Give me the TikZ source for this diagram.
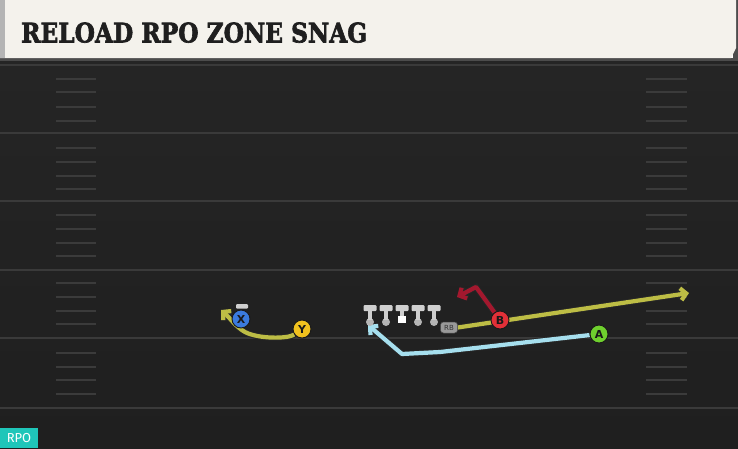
\documentclass[tikz,border=0pt]{standalone}
\usepackage{fontspec}
\setmainfont{DejaVu Sans}
\newfontfamily\titlefont[BoldFeatures={FakeBold=2.5}]{DejaVu Serif}
\newfontfamily\rpofont{Fira Sans}
\usetikzlibrary{arrows.meta}
\definecolor{fieldtop}{HTML}{252525}
\definecolor{fieldbot}{HTML}{1F1F1F}
\definecolor{cream}{HTML}{F4F2EC}
\definecolor{stripe}{HTML}{B4B4B4}
\definecolor{yardc}{HTML}{3A3A3A}
\definecolor{hashc}{HTML}{3B3B3B}
\definecolor{ylw}{HTML}{BDBD45}
\definecolor{cyanr}{HTML}{A6DFEE}
\definecolor{redr}{HTML}{A3182E}
\definecolor{xblue}{HTML}{3B7BDD}
\definecolor{yyel}{HTML}{F1C21E}
\definecolor{bred}{HTML}{E23038}
\definecolor{agrn}{HTML}{6FD02E}
\definecolor{olc}{HTML}{CFCFCF}
\definecolor{olb}{HTML}{B5B5B5}
\definecolor{rpoc}{HTML}{1FC6B9}
\pgfdeclarelayer{bg}
\pgfsetlayers{bg,main}
\tikzset{
  player/.style={circle, draw=black!90, line width=0.9pt, minimum size=18pt, inner sep=0pt,
    font=\fontsize{11}{11}\selectfont\bfseries, text=black!90},
  route/.style={line width=4.2pt, draw=#1, line join=round,
    preaction={draw=black!85, line width=6.2pt}},
  tip/.style={-{Straight Barb[length=5.5pt,width=12pt]}},
  yardline/.style={draw=yardc, line width=2pt},
  hashmark/.style={draw=hashc, line width=1.6pt},
  olbar/.style={fill=olc, rounded corners=1pt},
}
\begin{document}
\begin{tikzpicture}[x=1pt,y=-1pt]
\useasboundingbox (0,0) rectangle (738,448);
\begin{pgfonlayer}{bg}
% field
\shade[top color=fieldtop, bottom color=fieldbot] (0,58) rectangle (738,448);
\fill[black!70] (0,58) rectangle (738,61);
\fill[black!70] (733,0) rectangle (738,61);
% yard lines
\foreach \yy in {65,133,201,270,338,408}
  \draw[yardline] (0,\yy) -- (738,\yy);
% hash marks
\foreach \yy in {79,92,107,121,148,162,176,189,215,229,243,256,283,297,311,324,353,367,380,394}{
  \draw[hashmark] (56,\yy) -- (96,\yy);
  \draw[hashmark] (646,\yy) -- (687,\yy);
}
% header
\fill[cream] (0,0) -- (736,0) -- (736,48) -- (731,58) -- (0,58) -- cycle;
\fill[stripe] (0,0) rectangle (5,58);
\end{pgfonlayer}

\node[anchor=south west, inner sep=0pt, text=black!88] (title) at (21,43)
  {\resizebox{346pt}{20pt}{\titlefont\bfseries RELOAD RPO ZONE SNAG}};

% offensive line
\foreach \xx/\nm in {370/L1,386/L2,418/L4,434/L5}{
  \fill[olb] (\xx,322) circle (4);
  \fill[olc] (\xx-2.2,309) rectangle (\xx+2.2,320);
  \fill[olbar] (\xx-6.5,305) rectangle (\xx+6.5,311);
  \coordinate (\nm) at (\xx,322);
}
\fill[olc] (399.8,309) rectangle (404.2,316);
\fill[olbar] (395.5,305) rectangle (408.5,311);
\fill[white] (398,315.5) rectangle (405.5,322.5);
\node[inner sep=0pt, minimum size=0pt] (C) at (402,319) {};

% RB
\node[fill=black!40, draw=black!70, line width=0.5pt, rounded corners=3pt, minimum width=17pt,
  minimum height=11pt, inner sep=0pt, font=\fontsize{7}{7}\selectfont, text=black!80] (RB) at (449,327.5) {RB};

% block bar above X
\fill[olc, rounded corners=1pt] (236,304) rectangle (248,308.5);

% players
\node[player, fill=xblue] (X) at (241,319) {X};
\node[player, fill=yyel] (Y) at (302,329) {Y};
\node[player, fill=bred] (B) at (500,320) {B};
\node[player, fill=agrn] (A) at (599,334) {A};

\coordinate (yend) at (689,293);
\coordinate (ytip) at (221,310);
\coordinate (rcorner) at (476,287);
\coordinate (rtip) at (457,297);
\coordinate (c1) at (440,352);
\coordinate (c2) at (402,354);
\coordinate (ctip) at (368,325);

\begin{pgfonlayer}{bg}
% routes
\draw[route=ylw, tip] (RB.east) -- (yend);
\draw[route=cyanr, tip] (A) -- (c1) -- (c2) -- (ctip);
\draw[route=redr, tip] (B) -- (rcorner) -- (rtip);
\draw[route=ylw, tip] (Y) .. controls (288,339) and (258,339) .. (245,332)
   .. controls (236,327) and (230,318) .. (ytip);
\end{pgfonlayer}

% RPO tag
\fill[rpoc] (0,428) rectangle (38,448);
\node[anchor=center, inner sep=0pt, text=white, font=\rpofont\fontsize{13}{13}\selectfont] (rpo) at (19,438.5) {RPO};
\end{tikzpicture}
\end{document}
